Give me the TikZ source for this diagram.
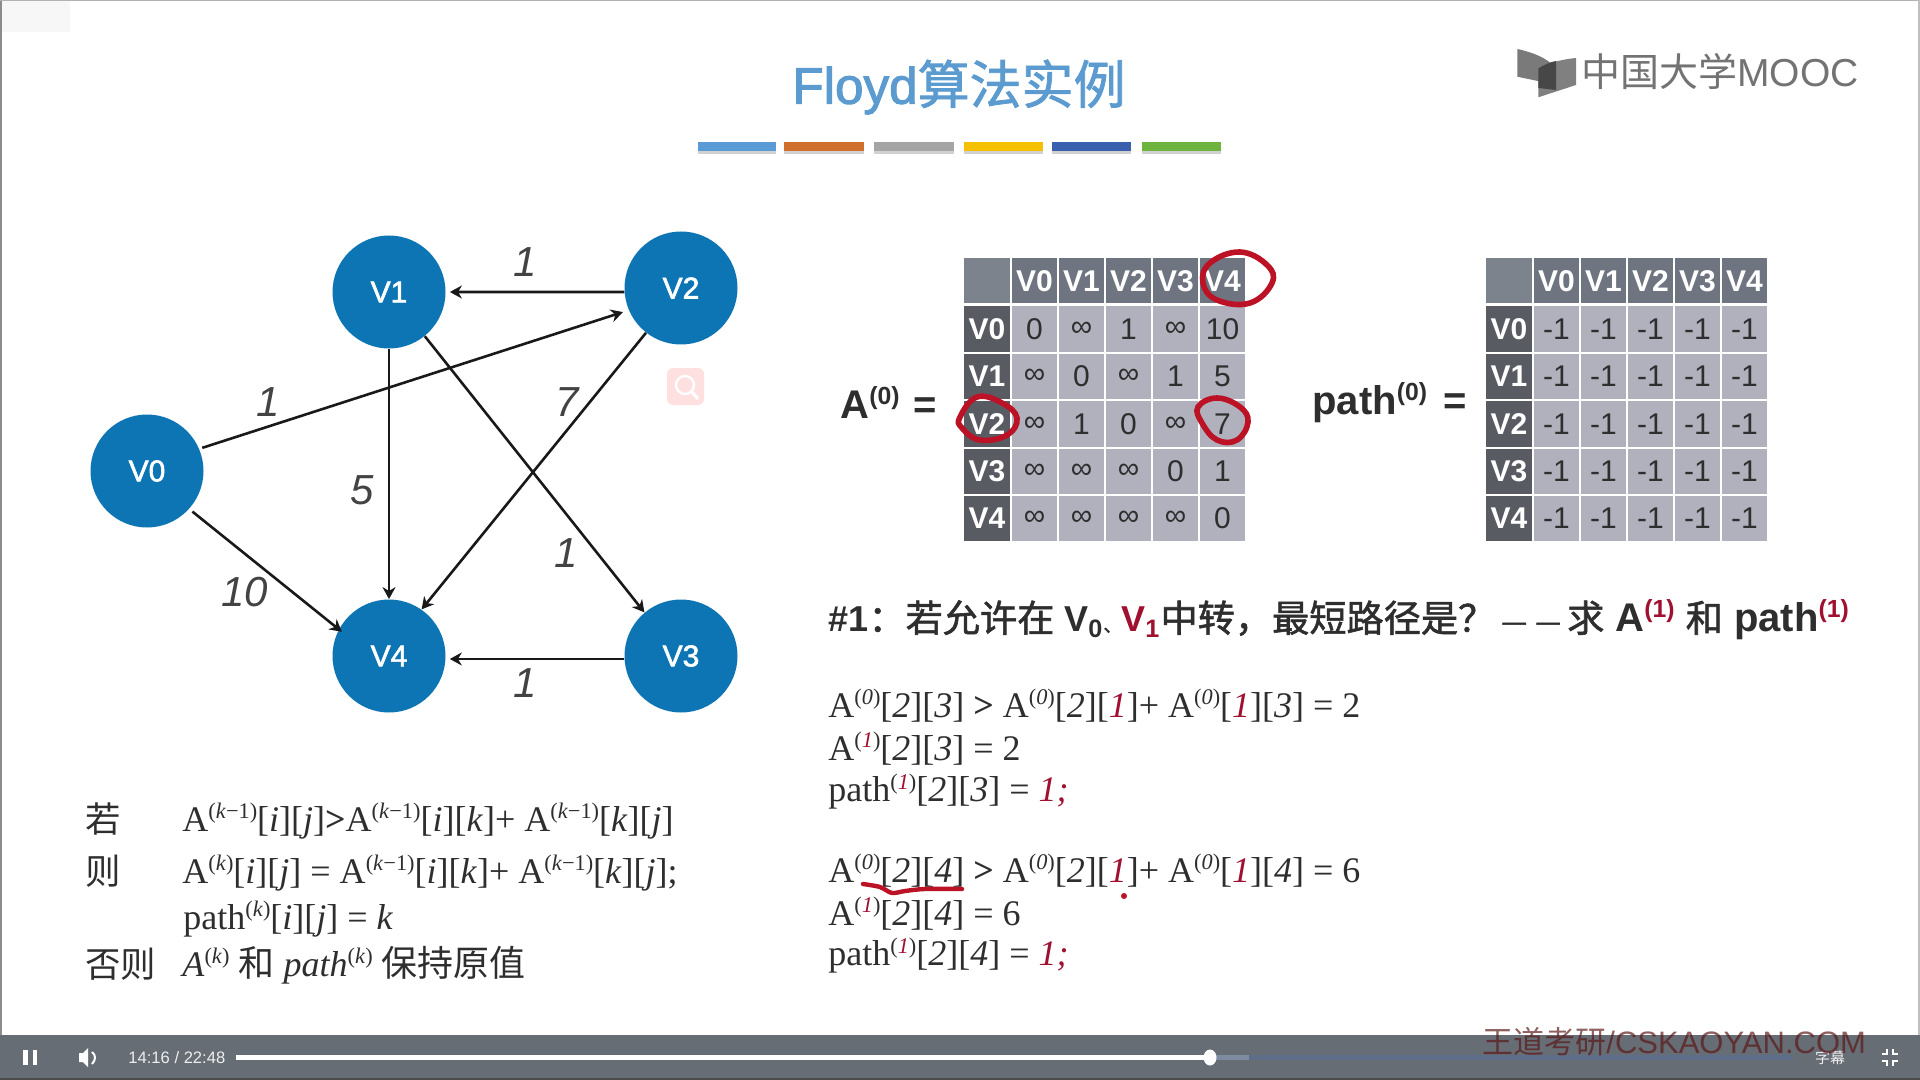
\documentclass[tikz,border=0pt]{standalone}
\usepackage{fontspec}
\setmainfont{Liberation Sans}
\newfontfamily\cjk{Noto Sans CJK SC}
\newfontfamily\cjkm[FakeBold=1.5]{Noto Sans CJK SC}
\newfontfamily\hvm[FakeBold=2]{Liberation Sans}
\newfontfamily\tms{Liberation Serif}
\usetikzlibrary{arrows.meta,calc}
\definecolor{blu}{HTML}{0E75B5}
\definecolor{ttl}{HTML}{5B9BD0}
\definecolor{hdr}{HTML}{6F7580}
\definecolor{hdl}{HTML}{595B63}
\definecolor{celc}{HTML}{B0B1BD}
\definecolor{rdc}{HTML}{A01030}
\definecolor{ink}{HTML}{BC1226}
\definecolor{barc}{HTML}{676D75}
\definecolor{buf}{HTML}{5E6E88}
\definecolor{txt}{HTML}{2E2E2E}
\definecolor{wm}{HTML}{5A1515}
\newcommand\cjm{\cjkm\mdseries\fontsize{18.6}{22}\selectfont}
\newcommand\upp[1]{\raisebox{0.35em}{\scalebox{.62}{#1}}}
\newcommand\rd[1]{\textcolor{rdc}{\textit{#1}}}
\newcommand\azr[1]{A\upp{(\textit{#1})}}
\newcommand\aone[1]{A\upp{(\rd{#1})}}
\newcommand\km{\textit{k}−1}
\newcommand\idx[1]{[\textit{#1}]}
\newcommand\irr[1]{[\rd{#1}]}
\tikzset{
  vert/.style={circle,fill=blu,draw=none,minimum size=113*.5pt,inner sep=0,text=white,font=\hvm\fontsize{15}{18}\selectfont},
  arr/.style={draw=black!90,line width=1.3pt,-{Stealth[length=6pt,width=6.5pt]}},
  wgt/.style={inner sep=0,text=txt!90,font=\fontsize{21}{25}\selectfont\itshape},
  chd/.style={inner sep=0,minimum width=22.5pt,minimum height=22.5pt,fill=hdr,text=white,font=\fontsize{15}{18}\selectfont\bfseries},
  rhd/.style={inner sep=0,minimum width=22.5pt,minimum height=22.7pt,fill=hdl,text=white,font=\fontsize{15}{18}\selectfont\bfseries},
  cellb/.style={inner sep=0,minimum width=22.5pt,minimum height=22.7pt,fill=celc,text=txt,font=\fontsize{15}{18}\selectfont},
  frm/.style={anchor=west,inner sep=0,text=txt,font=\tms\fontsize{18}{21}\selectfont},
  lft/.style={anchor=west,inner sep=0,text=txt,font=\tms\fontsize{18}{21}\selectfont},
  cjl/.style={anchor=west,inner sep=0,text=txt,font=\cjk\fontsize{17.7}{21}\selectfont},
  hand/.style={draw=ink,line width=2.8pt,line cap=round},
  ctl/.style={inner sep=0,text=white!93!black}
}
\newcommand\mtx[3]{%
  \node[chd,fill=hdr!90!white,minimum width=23pt] (#1c) at (#2+23,281) {};
  \foreach \h [count=\j from 0] in {V0,V1,V2,V3,V4}{
    \node[chd] (#1h\j) at ({#2+47+47*\j+23.5},281) {\h};
    \node[rhd,minimum width=23pt] (#1r\j) at ({#2+23},{306+47.4*\j+23}) {\h};
  }
  \foreach \i/\vals in {#3}{
    \foreach \v [count=\j from 0] in \vals{
      \node[cellb] (#1\i\j) at ({#2+47+47*\j+23.5},{306+47.4*\i+23}) {\v};
    }
  }
}
\begin{document}
\begin{tikzpicture}[x=.5pt,y=-.5pt]
\useasboundingbox (0,0) rectangle (1920,1080);
\fill[white] (0,0) rectangle (1920,1080);
\fill[black!3] (0,0) rectangle (70,32);
\fill[black!45] (0,0) rectangle (1.6,1035);
\fill[black!30] (0,0) rectangle (1920,1);
\fill[black!25] (1917.5,0) rectangle (1920,1035);
% title
\node[inner sep=0,text=ttl] (title) at (959,87) {{\hvm\fontsize{25.6}{30}\selectfont Floyd}{\cjkm\fontsize{26}{30}\selectfont 算法实例}};
\foreach \a/\b/\c in {698/776/5B9BD5,784/864/D0702C,874/954/A5A5A5,964/1043/F5C000,1052/1131/3A5FAD,1142/1221/6FB33F}{
  \definecolor{tmpc}{HTML}{\c}
  \fill[black!18] (\a,150) rectangle (\b,154);
  \fill[tmpc] (\a,142) rectangle (\b,151);
}
% logo
\fill[black!52] (1517.3,49) .. controls (1540,54) and (1552,62) .. (1557,70) -- (1557,85) -- (1517.3,76.7) -- cycle;
\fill[black!50] (1538.3,68.3) .. controls (1550,62) and (1565,59) .. (1576,58) -- (1576,85) -- (1538.3,97.3) -- cycle;
\fill[black!72] (1538.3,68.3) .. controls (1544,65) and (1550,62) .. (1556,61) -- (1556,90) -- (1538.3,88) -- cycle;
\node[anchor=west,inner sep=0,text=black!55] (logo) at (1581,72) {\fontsize{19.5}{24}\selectfont{\cjk 中国大学}MOOC};
% graph
\node[vert] (v0) at (147,471) {V0};
\node[vert] (v1) at (389,292) {V1};
\node[vert] (v2) at (681,288) {V2};
\node[vert] (v3) at (681,656) {V3};
\node[vert] (v4) at (389,656) {V4};
\draw[arr,shorten >=2pt] (v2.184) -- (v1.0);
\draw[arr,shorten >=3pt,shorten <=1.5pt] (v0.23) -- (v2.203);
\draw[arr] (v1.270) -- (v4.90);
\draw[arr] (v1.309) -- (v3.130);
\draw[arr] (v2.232) -- (v4.55);
\draw[arr,shorten >=-2pt,shorten <=2pt] (v0.318) -- (v4.152);
\draw[arr,shorten >=2pt] (v3.183) -- (v4.357);
\node[wgt] (w1) at (525,262) {1};
\node[wgt] (w2) at (268,402) {1};
\node[wgt] (w3) at (362,490) {5};
\node[wgt] (w4) at (567,402) {7};
\node[wgt] (w5) at (566,553) {1};
\node[wgt] (w6) at (245,592) {10};
\node[wgt] (w7) at (525,683) {1};
% magnifier
\fill[red!12,rounded corners=3pt] (667,368) rectangle (704,405);
\draw[white,line width=1.2pt] (685,385) circle (9);
\draw[white,line width=1.6pt] (692,392) -- (698,399);
% matrices
\def\inff{∞}
\node[anchor=west,inner sep=0,text=txt,font=\fontsize{20}{24}\selectfont\bfseries] (la) at (840,403) {A\upp{(0)}\hspace{.35em}=};
\mtx{a}{964}{0/{0,\inff,1,\inff,10},1/{\inff,0,\inff,1,5},2/{\inff,1,0,\inff,7},3/{\inff,\inff,\inff,0,1},4/{\inff,\inff,\inff,\inff,0}}
\node[anchor=west,inner sep=0,text=txt,font=\fontsize{20}{24}\selectfont\bfseries] (lp) at (1312,403) {path\upp{(0)}\hspace{.42em}=};
\mtx{p}{1486}{0/{-1,-1,-1,-1,-1},1/{-1,-1,-1,-1,-1},2/{-1,-1,-1,-1,-1},3/{-1,-1,-1,-1,-1},4/{-1,-1,-1,-1,-1}}
% hand marks
\draw[hand] plot[smooth cycle,tension=.7] coordinates {(1210,263)(1240,252)(1267,265)(1272,283)(1250,303)(1217,300)(1203,283)};
\draw[hand] plot[smooth cycle,tension=.7] coordinates {(960,417)(977,397)(1002,403)(1017,418)(1007,435)(980,440)(962,428)};
\draw[hand] plot[smooth cycle,tension=.7] coordinates {(1198,407)(1217,398)(1240,407)(1248,422)(1237,440)(1217,440)(1202,423)};
% heading
\node[anchor=west,inner sep=0,text=txt,font=\fontsize{18}{22}\selectfont\bfseries] (head) at (828,620) {\#1{\cjm ^^^^ff1a若允许在} V\textsubscript{0}{\cjm\fontsize{9}{22}\selectfont 、}\textcolor{rdc}{V\textsubscript{1}}{\cjm 中转^^^^ff0c最短路径是^^^^ff1f}\hspace{3pt}{\cjm\fontsize{14.5}{22}\selectfont —\hspace{4pt}—}\hspace{3pt}{\cjm 求}{\fontsize{20}{22}\selectfont\ A\upp{\textcolor{rdc}{(1)}} {\cjm 和} path\upp{\textcolor{rdc}{(1)}}}};
% formulas right
\node[frm] (f1) at (828,705.5) {\azr{0}\idx{2}\idx{3} \textbf{>} \azr{0}\idx{2}\irr{1}+ \azr{0}\irr{1}\idx{3} = 2};
\node[frm] (f2) at (828,748.5) {\aone{1}\idx{2}\idx{3} = 2};
\node[frm] (f3) at (828,791.5) {path\upp{(\rd{1})}\idx{2}\idx{3} = \rd{1;}};
\node[frm] (f4) at (828,870.5) {\azr{0}\idx{2}\idx{4} \textbf{>} \azr{0}\idx{2}\irr{1}+ \azr{0}\irr{1}\idx{4} = 6};
\node[frm] (f5) at (828,913.5) {\aone{1}\idx{2}\idx{4} = 6};
\node[frm] (f6) at (828,955.5) {path\upp{(\rd{1})}\idx{2}\idx{4} = \rd{1;}};
\draw[hand,line width=2.2pt] plot[smooth,tension=.5] coordinates {(863,884)(880,887)(892,893)(905,891)(925,889)(962,889)};
\fill[ink] (1124,896) circle (3);
% formulas left
\node[cjl] (l1) at (85,819) {若};
\node[cjl] (l2) at (85,871) {则};
\node[cjl] (l4) at (85,964) {否则};
\node[lft] (g1) at (182,821) {A\upp{(\km)}\idx{i}\idx{j}\textbf{>}A\upp{(\km)}\idx{i}\idx{k}+ A\upp{(\km)}\idx{k}\idx{j}};
\node[lft] (g2) at (182,873) {A\upp{(\textit{k})}\idx{i}\idx{j} = A\upp{(\km)}\idx{i}\idx{k}+ A\upp{(\km)}\idx{k}\idx{j};};
\node[lft] (g3) at (183,919) {path\upp{(\textit{k})}\idx{i}\idx{j} = \textit{k}};
\node[lft] (g4) at (182,965) {\textit{A}\upp{(\textit{k})} {\cjk 和} \textit{path}\upp{(\textit{k})} {\cjk 保持原值}};
% player bar
\fill[barc] (0,1035) rectangle (1920,1080);
\fill[black!70] (0,1078) rectangle (1920,1080);
\fill[buf] (1210,1055) rectangle (1793,1060);
\fill[buf!80!white] (1210,1055) rectangle (1249,1060);
\fill[white] (236,1055) rectangle (1210,1060);
\fill[white] (1210,1057.5) ellipse (6.5 and 8);
\fill[white] (23,1050) rectangle (27.5,1065);
\fill[white] (32.7,1050) rectangle (36.7,1065);
\fill[white] (79,1053) -- (83,1053) -- (88,1048) -- (88,1067) -- (83,1062) -- (79,1062) -- cycle;
\draw[white,line width=1pt] (92,1052) .. controls (96,1055) and (96,1060) .. (92,1064);
\node[ctl,anchor=west,font=\fontsize{8.3}{10}\selectfont] (time) at (128,1058) {14:16 / 22:48};
\node[ctl,anchor=center,font=\cjk\fontsize{7.5}{9}\selectfont] (cc) at (1830,1058) {字幕};
\draw[white,line width=1.2pt] (1882,1054) -- (1887,1054) -- (1887,1049);
\draw[white,line width=1.2pt] (1898,1054) -- (1893,1054) -- (1893,1049);
\draw[white,line width=1.2pt] (1882,1061) -- (1887,1061) -- (1887,1066);
\draw[white,line width=1.2pt] (1898,1061) -- (1893,1061) -- (1893,1066);
\node[anchor=west,inner sep=0,text=wm,text opacity=.68,font=\fontsize{15.5}{18}\selectfont] (wmark) at (1482,1042) {{\cjk 王道考研}/CSKAOYAN.COM};
\end{tikzpicture}
\end{document}
